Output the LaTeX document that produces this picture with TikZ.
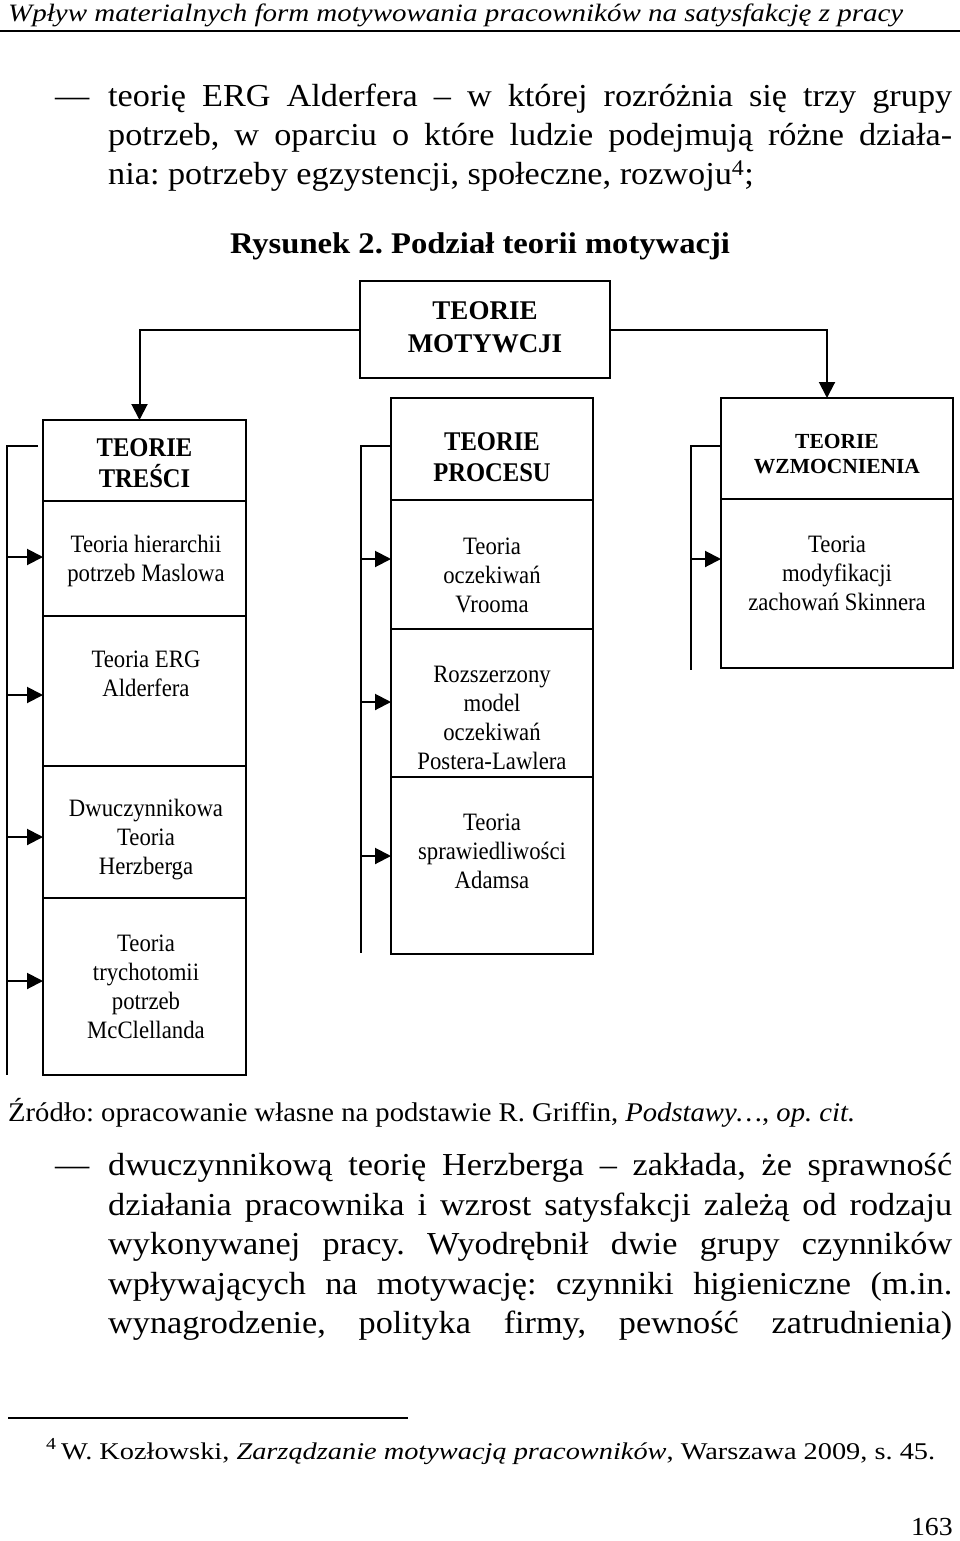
\documentclass[tikz,border=0pt]{standalone}
\usepackage{fontspec}
\usepackage{graphicx}
\setmainfont{Liberation Serif}
\newfontfamily\bodyf[FakeStretch=1.07]{Liberation Serif}
\newfontfamily\dgf[FakeStretch=0.91]{Liberation Serif}
\usetikzlibrary{arrows.meta}
\frenchspacing
\begin{document}
\begin{tikzpicture}[x=1pt,y=-1pt,
  cell/.style={draw, line width=1.8pt, inner sep=0pt, outer sep=0pt, anchor=north west},
  dtxt/.style={align=center, inner sep=0pt, font=\dgf\fontsize{25}{29}\selectfont},
  hbtxt/.style={align=center, inner sep=0pt, font=\dgf\bfseries\fontsize{27}{31}\selectfont},
  conn/.style={line width=2pt},
  arr/.style={line width=2pt, -{Triangle[length=16pt,width=16pt]}},
  btxt/.style={anchor=base west, inner sep=0pt, font=\bodyf\fontsize{32}{39}\selectfont},
  stxt/.style={anchor=base west, inner sep=0pt, font=\bodyf\fontsize{27}{30}\selectfont},
]
\useasboundingbox (0,0) rectangle (960,1541);
\fill[white] (0,0) rectangle (960,1541);

% running head
\node[anchor=base west, inner sep=0pt, font=\itshape\fontsize{25}{30}\selectfont] (hdr) at (8,22)
  {\resizebox{895pt}{\height}{Wpływ materialnych form motywowania pracowników na satysfakcję z pracy}};
\draw[line width=1.5pt] (0,31) -- (960,31);

% paragraph 1
\node[btxt] (d1) at (55,107) {—};
\node[btxt] (p1a) at (108,107) {\makebox[844pt][s]{teorię ERG Alderfera – w której rozróżnia się trzy grupy}};
\node[btxt] (p1b) at (108,146) {\makebox[844pt][s]{potrzeb, w oparciu o które ludzie podejmują różne działa-}};
\node[btxt] (p1c) at (108,185) {nia: potrzeby egzystencji, społeczne, rozwoju\textsuperscript{4};};

% title
\node[anchor=base, inner sep=0pt, font=\bodyf\bfseries\fontsize{30}{34}\selectfont] (title) at (480,253)
  {\resizebox{500pt}{\height}{Rysunek 2. Podział teorii motywacji}};

% boxes
\node[cell, minimum width=250pt, minimum height=97pt] (top) at (360,281) {};
\node[cell, minimum width=203pt, minimum height=81pt] (trH) at (43,420) {};
\node[cell, minimum width=203pt, minimum height=115pt] (tr1) at (43,501) {};
\node[cell, minimum width=203pt, minimum height=150pt] (tr2) at (43,616) {};
\node[cell, minimum width=203pt, minimum height=132pt] (tr3) at (43,766) {};
\node[cell, minimum width=203pt, minimum height=177pt] (tr4) at (43,898) {};
\node[cell, minimum width=202pt, minimum height=102pt] (prH) at (391,398) {};
\node[cell, minimum width=202pt, minimum height=129pt] (pr1) at (391,500) {};
\node[cell, minimum width=202pt, minimum height=148pt] (pr2) at (391,629) {};
\node[cell, minimum width=202pt, minimum height=177pt] (pr3) at (391,777) {};
\node[cell, minimum width=232pt, minimum height=101pt] (wzH) at (721,398) {};
\node[cell, minimum width=232pt, minimum height=169pt] (wz1) at (721,499) {};

% box texts
\node[align=center, inner sep=0pt, font=\bfseries\fontsize{27}{33}\selectfont] (ttop) at (485,327) {TEORIE\\MOTYWCJI};
\node[hbtxt] (ttrH) at (144.5,463) {TEORIE\\TREŚCI};
\node[hbtxt] (tprH) at (492,457) {TEORIE\\PROCESU};
\node[align=center, inner sep=0pt, font=\bfseries\fontsize{21.5}{25}\selectfont] (twzH) at (837,454) {TEORIE\\WZMOCNIENIA};
\node[dtxt] (ttr1) at (146,561) {Teoria hierarchii\\potrzeb Maslowa};
\node[dtxt] (ttr2) at (146,674) {Teoria ERG\\Alderfera};
\node[dtxt] (ttr3) at (146,840) {Dwuczynnikowa\\Teoria\\Herzberga};
\node[dtxt] (ttr4) at (146,987) {Teoria\\trychotomii\\potrzeb\\McClellanda};
\node[dtxt] (tpr1) at (492,575.5) {Teoria\\oczekiwań\\Vrooma};
\node[dtxt] (tpr2) at (492,718) {Rozszerzony\\model\\oczekiwań\\Postera-Lawlera};
\node[dtxt] (tpr3) at (492,851) {Teoria\\sprawiedliwości\\Adamsa};
\node[dtxt] (twz1) at (837,573) {Teoria\\modyfikacji\\zachowań Skinnera};

% top connectors
\draw[arr] (top.west) -| ([xshift=-5pt]trH.north);
\draw[arr] (top.east) -| ([xshift=-10pt]wzH.north);

% left bracket
\coordinate (lt) at (7,446);
\coordinate (lb) at (7,1075);
\draw[conn] ([xshift=-5pt,yshift=14.5pt]trH.west) -- (lt) -- (lb);
\coordinate (a1) at ([yshift=1.5pt]tr1.west);
\coordinate (a2) at ([yshift=-4pt]tr2.west);
\coordinate (a3) at ([yshift=-5pt]tr3.west);
\coordinate (a4) at ([yshift=5.5pt]tr4.west);
\foreach \a in {a1,a2,a3,a4} \draw[arr] (lt |- \a) -- (\a);

% middle bracket
\coordinate (mt) at (361,446);
\coordinate (mb) at (361,953);
\draw[conn] ([yshift=3pt]prH.west) -- (mt) -- (mb);
\coordinate (b1) at ([yshift=5.5pt]pr1.west);
\coordinate (b2) at ([yshift=1pt]pr2.west);
\coordinate (b3) at ([yshift=9.5pt]pr3.west);
\foreach \b in {b1,b2,b3} \draw[arr] (mt |- \b) -- (\b);

% right bracket
\coordinate (rt) at (691,446);
\coordinate (rb) at (691,670);
\draw[conn] ([yshift=2.5pt]wzH.west) -- (rt) -- (rb);
\coordinate (c1) at ([yshift=24.5pt]wz1.west);
\draw[arr] (rt |- c1) -- (c1);

% source
\node[stxt] (src) at (8,1121)
  {\resizebox{847pt}{\height}{Źródło: opracowanie własne na podstawie R. Griffin, \textit{Podstawy…}, \textit{op. cit.}}};

% paragraph 2
\node[btxt] (d2) at (55,1175) {—};
\node[btxt] (p2a) at (108,1175) {\makebox[844pt][s]{dwuczynnikową teorię Herzberga – zakłada, że sprawność}};
\node[btxt] (p2b) at (108,1215) {\makebox[844pt][s]{działania pracownika i wzrost satysfakcji zależą od rodzaju}};
\node[btxt] (p2c) at (108,1254) {\makebox[844pt][s]{wykonywanej pracy. Wyodrębnił dwie grupy czynników}};
\node[btxt] (p2d) at (108,1294) {\makebox[844pt][s]{wpływających na motywację: czynniki higieniczne (m.in.}};
\node[btxt] (p2e) at (108,1333) {\makebox[844pt][s]{wynagrodzenie, polityka firmy, pewność zatrudnienia)}};

% footnote
\draw[line width=1.5pt] (8,1418) -- (408,1418);
\node[anchor=base west, inner sep=0pt, font=\bodyf\fontsize{24}{28}\selectfont] (fn) at (46,1459)
  {\resizebox{889pt}{\height}{\textsuperscript{4}\,W. Kozłowski, \textit{Zarządzanie motywacją pracowników}, Warszawa 2009, s. 45.}};

% page number
\node[anchor=base east, inner sep=0pt, font=\bodyf\fontsize{26}{30}\selectfont] (pg) at (953,1535) {163};
\end{tikzpicture}
\end{document}
